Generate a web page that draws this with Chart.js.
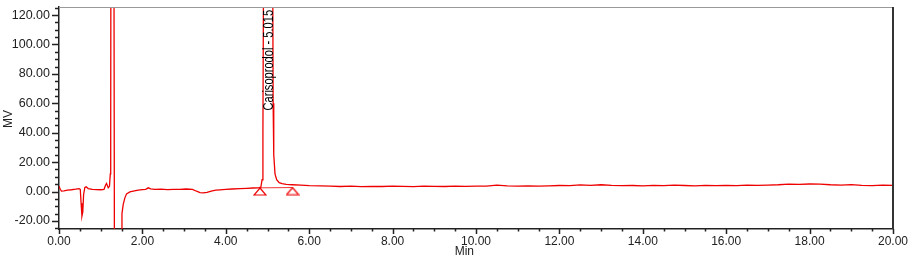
<!DOCTYPE html>
<html>
<head>
<meta charset="utf-8">
<script src="https://cdn.jsdelivr.net/npm/chart.js@4.4.1/dist/chart.umd.min.js"></script>
<style>
  html, body { margin: 0; padding: 0; background: #fff; }
  #wrap { width: 916px; height: 260px; }
</style>
</head>
<body>
<div id="wrap"><canvas id="chart"></canvas></div>
<script>
// retention time (min) and detector signal (mV)
var retentionMin = [
    0.00, 0.03, 0.06, 0.12, 0.20, 0.30, 0.40, 0.48, 0.51, 0.53, 0.55, 0.57, 0.59, 0.62, 0.65,
    0.70, 0.80, 0.90, 1.00, 1.08, 1.12, 1.14, 1.16, 1.18, 1.21, 1.23, 1.24, 1.25, 1.31, 1.33,
    1.49, 1.51, 1.54, 1.58, 1.62, 1.70, 1.78, 1.90, 2.00, 2.08, 2.14, 2.20, 2.30, 2.45, 2.60,
    2.75, 2.90, 3.05, 3.20, 3.30, 3.38, 3.46, 3.55, 3.65, 3.76, 3.86, 4.00, 4.15, 4.34, 4.50,
    4.65, 4.78, 4.84, 4.87, 4.89, 4.905, 4.93, 5.015, 5.10, 5.125, 5.135, 5.15, 5.18, 5.22, 5.28,
    5.35, 5.45, 5.60, 5.80, 6.00, 6.27,
    6.50, 6.75, 7.00, 7.25, 7.50, 7.75, 8.00, 8.25, 8.50, 8.75, 9.00, 9.25, 9.50, 9.75, 10.00,
    10.25, 10.50, 10.75, 11.00, 11.25, 11.50, 11.75, 12.00, 12.25, 12.50, 12.75, 13.00, 13.25, 13.50, 13.75,
    14.00, 14.25, 14.50, 14.75, 15.00, 15.25, 15.50, 15.75, 16.00, 16.25, 16.50, 16.75, 17.00, 17.25, 17.50,
    17.75, 18.00, 18.25, 18.50, 18.75, 19.00, 19.25, 19.50, 19.75, 20.00
];
var signalMV = [
    3.6, 1.5, 0.3, 0.4, 0.9, 1.2, 1.6, 2.0, 1.5, -8, -16.7, -14, -2, 2.8, 3.2,
    2.0, 1.5, 1.3, 1.2, 1.5, 4.5, 5.5, 4.0, 2.5, 3.5, 12, 40, 300, 300, -60,
    -60, -15, -8.8, -4.3, -1.6, -0.3, 0.2, 0.9, 1.3, 1.5, 2.5, 1.8, 1.4, 1.6, 1.3,
    1.5, 1.4, 1.7, 1.5, 0.2, -0.7, -0.9, -0.6, 0.3, 0.9, 1.1, 1.4, 1.7, 2.0, 2.2,
    2.4, 2.5, 2.9, 8, 40, 150, 300, 400, 300, 150, 60, 25, 12, 8, 6,
    5.3, 4.9, 4.6, 4.3, 4.0, 3.9,
    3.7, 3.4, 3.6, 3.3, 3.5, 3.4, 3.6, 3.5, 3.3, 3.6, 3.5, 3.4, 3.6, 3.5, 3.7,
    3.6, 4.3, 3.8, 3.7, 3.9, 3.6, 3.8, 4.1, 4.0, 4.5, 4.2, 4.6, 4.2, 4.0, 4.1,
    3.9, 4.2, 4.0, 4.3, 4.1, 3.9, 4.2, 4.0, 4.1, 4.0, 4.3, 4.2, 4.4, 4.6, 5.0,
    4.8, 5.1, 5.0, 4.6, 4.4, 4.7, 4.2, 4.0, 4.3, 4.2
];

// integration baseline of the peak and its start/end markers
var baselineMin = [4.82, 5.60];
var baselineMV = [2.5, 2.7];
var markerMV = [0.0, 0.3];

var peakName = 'Carisoprodol';
var peakTime = 5.015;

var xMin = 0, xMax = 20, xMajor = 2, xMinor = 0.5;
var yMin = -25.5, yMax = 125.5, yMajor = 20, yMinor = 5;

var RED = 'rgb(238,0,0)';
var AXIS = '#222';

function zip(xs, ys) {
    return xs.map(function (x, i) { return { x: x, y: ys[i] }; });
}

// hollow triangle used for the baseline markers
function makeTriangle() {
    var c = document.createElement('canvas');
    c.width = 14; c.height = 9;
    var g = c.getContext('2d');
    g.strokeStyle = RED;
    g.lineWidth = 1.2;
    g.beginPath();
    g.moveTo(7, 1);
    g.lineTo(13, 8);
    g.lineTo(1, 8);
    g.closePath();
    g.stroke();
    return c;
}

function isMultiple(v, step) {
    var r = Math.abs(v / step - Math.round(v / step));
    return r < 1e-6;
}

// keep the plot box where the reference has it
function noPad(s) {
    s.paddingTop = 0;
    s.paddingBottom = 0;
    s.paddingLeft = 0;
    s.paddingRight = 0;
}

var decorations = {
    id: 'decorations',
    afterDraw: function (chart) {
        var ctx = chart.ctx, a = chart.chartArea;
        var xs = chart.scales.x, ys = chart.scales.y;
        var v, p;
        ctx.save();

        // top frame (light) and right frame (dark)
        ctx.strokeStyle = '#999';
        ctx.lineWidth = 1;
        ctx.beginPath();
        ctx.moveTo(a.left, a.top + 0.5);
        ctx.lineTo(a.right, a.top + 0.5);
        ctx.stroke();
        ctx.strokeStyle = '#333';
        ctx.lineWidth = 2;
        ctx.beginPath();
        ctx.moveTo(a.right, a.top);
        ctx.lineTo(a.right, a.bottom);
        ctx.stroke();

        // tick marks, long for labelled values, short in between
        ctx.strokeStyle = AXIS;
        ctx.lineWidth = 1.5;
        ctx.beginPath();
        for (v = xMin; v <= xMax + 1e-9; v += xMinor) {
            p = Math.round(xs.getPixelForValue(v)) + 0.5;
            ctx.moveTo(p, a.bottom);
            ctx.lineTo(p, a.bottom + (isMultiple(v, xMajor) ? 5 : 2.5));
        }
        for (v = -25; v <= 125 + 1e-9; v += yMinor) {
            p = Math.round(ys.getPixelForValue(v)) + 0.5;
            ctx.moveTo(a.left, p);
            ctx.lineTo(a.left - (isMultiple(v, yMajor) ? 7 : 4), p);
        }
        ctx.stroke();

        // axis titles
        ctx.fillStyle = '#222';
        ctx.font = '12px "Liberation Sans", Arial, sans-serif';
        ctx.textAlign = 'center';
        ctx.textBaseline = 'middle';
        ctx.fillText('Min', xs.getPixelForValue(9.72), 252);
        ctx.save();
        ctx.translate(9, (a.top + a.bottom) / 2 + 1);
        ctx.rotate(-Math.PI / 2);
        ctx.fillText('MV', 0, 0);
        ctx.restore();

        // peak label, rotated and condensed
        ctx.save();
        ctx.translate(xs.getPixelForValue(peakTime) + 4.5, a.top + 103.5);
        ctx.rotate(-Math.PI / 2);
        ctx.scale(0.74, 1);
        ctx.fillStyle = '#000';
        ctx.font = '15px "Liberation Sans", Arial, sans-serif';
        ctx.textAlign = 'left';
        ctx.textBaseline = 'alphabetic';
        ctx.fillText(peakName + ' - ' + peakTime.toFixed(3), 0, 0);
        ctx.restore();

        ctx.restore();
    }
};

new Chart(document.getElementById('chart'), {
    type: 'line',
    data: {
        datasets: [{
            data: zip(retentionMin, signalMV),
            borderColor: RED,
            borderWidth: 1.3,
            pointRadius: 0,
            tension: 0
        }, {
            data: zip(baselineMin, baselineMV),
            borderColor: RED,
            borderWidth: 0.8,
            pointRadius: 0
        }, {
            data: zip(baselineMin, markerMV),
            showLine: false,
            pointStyle: makeTriangle(),
            pointRadius: 6
        }]
    },
    plugins: [decorations],
    options: {
        responsive: true,
        maintainAspectRatio: false,
        animation: false,
        layout: { padding: { top: 7, right: 23, left: 0, bottom: 0 } },
        plugins: {
            legend: { display: false },
            tooltip: { enabled: false }
        },
        scales: {
            x: {
                type: 'linear',
                min: xMin,
                max: xMax,
                afterFit: function (s) { s.height = 31; noPad(s); },
                grid: { display: false, drawTicks: false },
                border: { display: true, color: AXIS, width: 1.5 },
                ticks: {
                    stepSize: xMinor,
                    autoSkip: false,
                    maxRotation: 0,
                    padding: 5,
                    color: '#222',
                    font: { family: '"Liberation Sans", Arial, sans-serif', size: 12 },
                    callback: function (v) { return isMultiple(v, xMajor) ? v.toFixed(2) : ''; }
                }
            },
            y: {
                min: yMin,
                max: yMax,
                afterFit: function (s) { s.width = 59; noPad(s); },
                grid: { display: false, drawTicks: false },
                border: { display: true, color: AXIS, width: 1.5 },
                ticks: {
                    stepSize: yMinor,
                    autoSkip: false,
                    padding: 9,
                    color: '#222',
                    font: { family: '"Liberation Sans", Arial, sans-serif', size: 12.5 },
                    callback: function (v) { return isMultiple(v, yMajor) ? v.toFixed(2) : ''; }
                }
            }
        }
    }
});
</script>
</body>
</html>
